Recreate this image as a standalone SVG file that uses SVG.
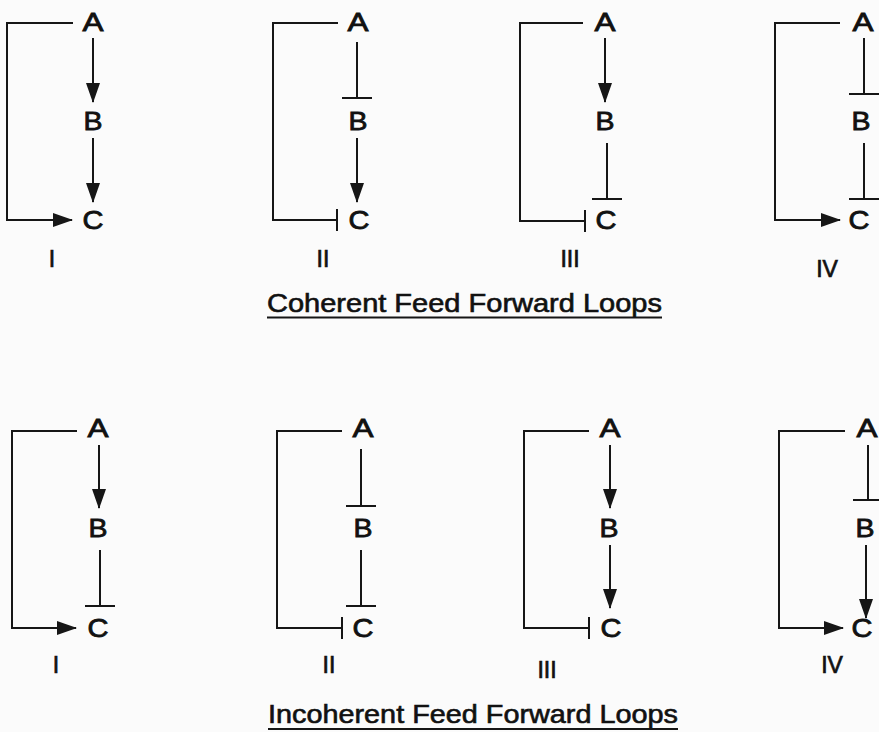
<svg xmlns="http://www.w3.org/2000/svg" width="879" height="732" viewBox="0 0 879 732">
<style>
.ln{fill:none;stroke:#161616;stroke-width:2}
.nd{font-family:"Liberation Sans",Arial,sans-serif;font-size:25px;fill:#111;stroke:#111;stroke-width:0.8;text-anchor:middle}
.num{font-family:"Liberation Sans",Arial,sans-serif;font-size:23px;fill:#111;stroke:#111;stroke-width:0.7;text-anchor:middle}
.ttl{font-family:"Liberation Sans",Arial,sans-serif;font-size:25px;fill:#111;stroke:#111;stroke-width:0.6}
</style>
<defs>
<marker id="arr" markerUnits="userSpaceOnUse" viewBox="0 0 20 14" markerWidth="20" markerHeight="14" refX="19" refY="7" orient="auto"><path d="M0,0 L20,7 L0,14 z" fill="#161616"/></marker>
<marker id="teeL" markerUnits="userSpaceOnUse" viewBox="0 0 4 30" markerWidth="4" markerHeight="30" refX="2" refY="15" orient="auto"><path d="M2,0 V30" stroke="#161616" stroke-width="2"/></marker>
<marker id="teeS" markerUnits="userSpaceOnUse" viewBox="0 0 4 22" markerWidth="4" markerHeight="22" refX="2" refY="11" orient="auto"><path d="M2,0 V22" stroke="#161616" stroke-width="2"/></marker>
</defs>
<rect width="879" height="732" fill="#fbfbfb"/>

<g id="connectors">
<!-- coherent I -->
<path class="ln" d="M73,23 H7 V220 H72" marker-end="url(#arr)"/>
<path class="ln" d="M93,38 V102" marker-end="url(#arr)"/>
<path class="ln" d="M93,138 V202" marker-end="url(#arr)"/>
<!-- coherent II -->
<path class="ln" d="M338,23 H273 V220 H337" marker-end="url(#teeS)"/>
<path class="ln" d="M357,42 V98" marker-end="url(#teeL)"/>
<path class="ln" d="M357,138 V202" marker-end="url(#arr)"/>
<!-- coherent III -->
<path class="ln" d="M583,23 H520 V221 H585" marker-end="url(#teeS)"/>
<path class="ln" d="M605,38 V102" marker-end="url(#arr)"/>
<path class="ln" d="M607,143 V199" marker-end="url(#teeL)"/>
<!-- coherent IV -->
<path class="ln" d="M840,23 H775 V220 H840" marker-end="url(#arr)"/>
<path class="ln" d="M864,38 V94" marker-end="url(#teeL)"/>
<path class="ln" d="M864,143 V199" marker-end="url(#teeL)"/>
<!-- incoherent I -->
<path class="ln" d="M77,431 H12 V628 H76" marker-end="url(#arr)"/>
<path class="ln" d="M99,445 V508" marker-end="url(#arr)"/>
<path class="ln" d="M100,550 V606" marker-end="url(#teeL)"/>
<!-- incoherent II -->
<path class="ln" d="M342,431 H277 V628 H342" marker-end="url(#teeS)"/>
<path class="ln" d="M361,449 V506" marker-end="url(#teeL)"/>
<path class="ln" d="M361,550 V606" marker-end="url(#teeL)"/>
<!-- incoherent III -->
<path class="ln" d="M589,431 H524 V628 H589" marker-end="url(#teeS)"/>
<path class="ln" d="M610,445 V508" marker-end="url(#arr)"/>
<path class="ln" d="M610,545 V608" marker-end="url(#arr)"/>
<!-- incoherent IV -->
<path class="ln" d="M845,431 H779 V628 H843" marker-end="url(#arr)"/>
<path class="ln" d="M868,445 V500" marker-end="url(#teeL)"/>
<path class="ln" d="M866,545 V618" marker-end="url(#arr)"/>
</g>

<g id="coh-I">
<text class="nd" x="93" y="31" textLength="21" lengthAdjust="spacingAndGlyphs">A</text>
<text class="nd" x="93" y="130" textLength="19" lengthAdjust="spacingAndGlyphs">B</text>
<text class="nd" x="93" y="229" textLength="21" lengthAdjust="spacingAndGlyphs">C</text>
<text class="num" x="52" y="267">I</text>
</g>
<g id="coh-II">
<text class="nd" x="358" y="31" textLength="21" lengthAdjust="spacingAndGlyphs">A</text>
<text class="nd" x="358" y="130" textLength="19" lengthAdjust="spacingAndGlyphs">B</text>
<text class="nd" x="359" y="229" textLength="21" lengthAdjust="spacingAndGlyphs">C</text>
<text class="num" x="323" y="267">II</text>
</g>
<g id="coh-III">
<text class="nd" x="605" y="31" textLength="21" lengthAdjust="spacingAndGlyphs">A</text>
<text class="nd" x="605" y="130" textLength="19" lengthAdjust="spacingAndGlyphs">B</text>
<text class="nd" x="606" y="229" textLength="21" lengthAdjust="spacingAndGlyphs">C</text>
<text class="num" x="570" y="267">III</text>
</g>
<g id="coh-IV">
<text class="nd" x="863" y="31" textLength="21" lengthAdjust="spacingAndGlyphs">A</text>
<text class="nd" x="861" y="130" textLength="19" lengthAdjust="spacingAndGlyphs">B</text>
<text class="nd" x="859" y="229" textLength="21" lengthAdjust="spacingAndGlyphs">C</text>
<text class="num" x="827" y="277">IV</text>
</g>
<g id="coherent-title">
<text class="ttl" x="267" y="312" textLength="395" lengthAdjust="spacingAndGlyphs">Coherent Feed Forward Loops</text>
<line class="ln" x1="267" y1="317.5" x2="662" y2="317.5"/>
</g>

<g id="incoh-I">
<text class="nd" x="98" y="437" textLength="21" lengthAdjust="spacingAndGlyphs">A</text>
<text class="nd" x="98" y="537" textLength="19" lengthAdjust="spacingAndGlyphs">B</text>
<text class="nd" x="98" y="637" textLength="21" lengthAdjust="spacingAndGlyphs">C</text>
<text class="num" x="56" y="673">I</text>
</g>
<g id="incoh-II">
<text class="nd" x="363" y="437" textLength="21" lengthAdjust="spacingAndGlyphs">A</text>
<text class="nd" x="363" y="537" textLength="19" lengthAdjust="spacingAndGlyphs">B</text>
<text class="nd" x="363" y="637" textLength="21" lengthAdjust="spacingAndGlyphs">C</text>
<text class="num" x="329" y="673">II</text>
</g>
<g id="incoh-III">
<text class="nd" x="610" y="437" textLength="21" lengthAdjust="spacingAndGlyphs">A</text>
<text class="nd" x="609" y="537" textLength="19" lengthAdjust="spacingAndGlyphs">B</text>
<text class="nd" x="611" y="637" textLength="21" lengthAdjust="spacingAndGlyphs">C</text>
<text class="num" x="547" y="678">III</text>
</g>
<g id="incoh-IV">
<text class="nd" x="867" y="437" textLength="21" lengthAdjust="spacingAndGlyphs">A</text>
<text class="nd" x="865" y="537" textLength="19" lengthAdjust="spacingAndGlyphs">B</text>
<text class="nd" x="862" y="637" textLength="21" lengthAdjust="spacingAndGlyphs">C</text>
<text class="num" x="832" y="673">IV</text>
</g>
<g id="incoherent-title">
<text class="ttl" x="268" y="723" textLength="410" lengthAdjust="spacingAndGlyphs">Incoherent Feed Forward Loops</text>
<line class="ln" x1="268" y1="729" x2="678" y2="729"/>
</g>
</svg>
